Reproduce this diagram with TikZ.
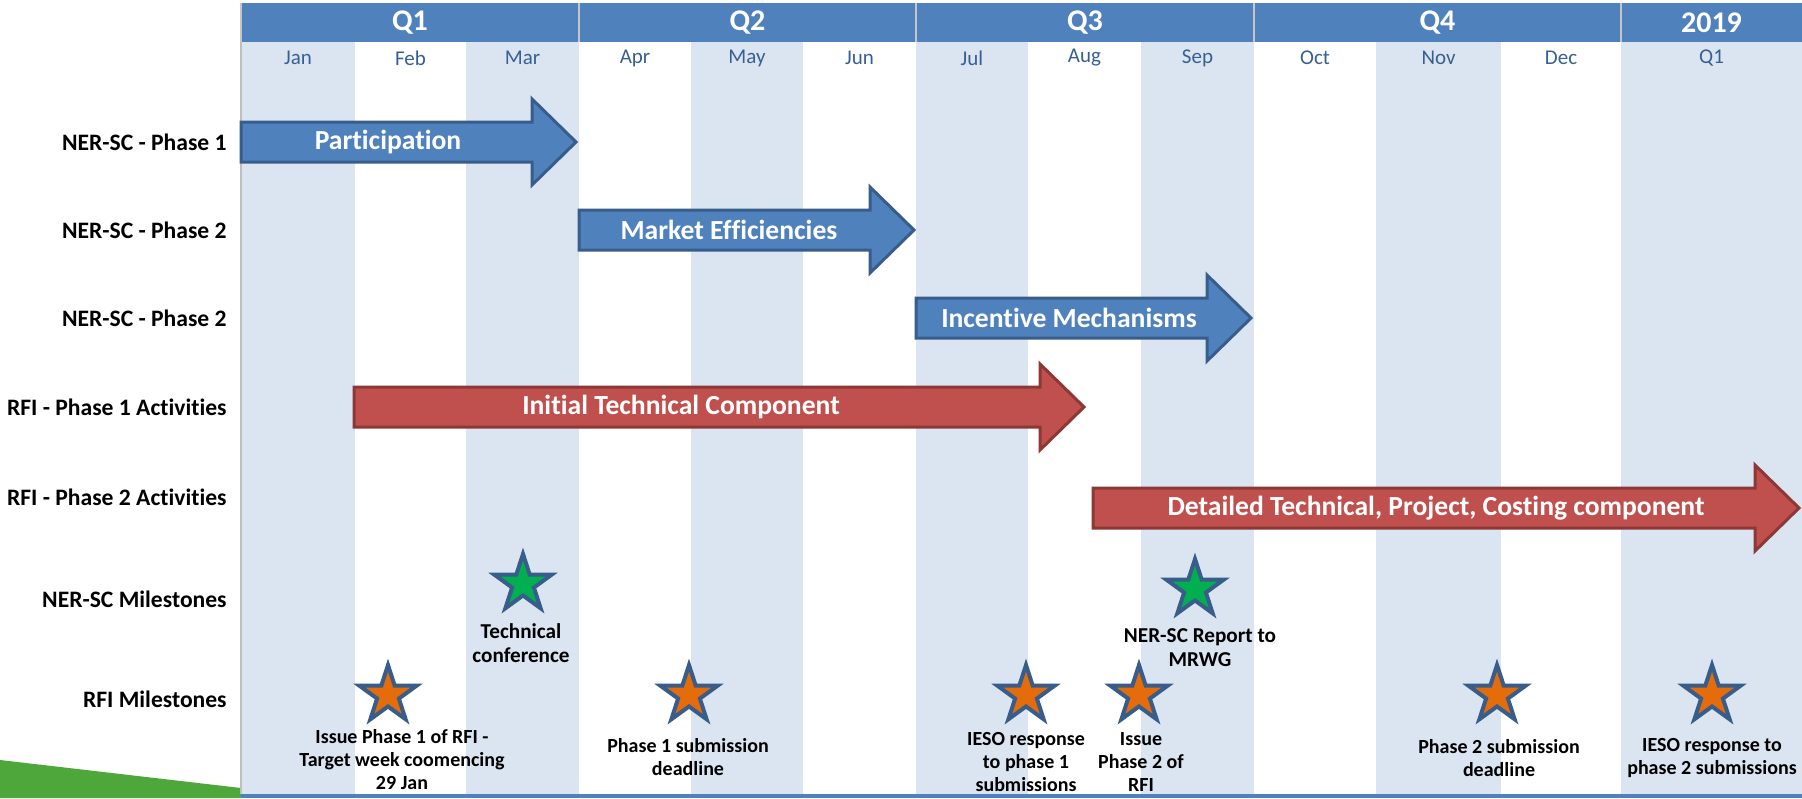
\documentclass[tikz,border=0pt]{standalone}
\usepackage{fontspec}
\setmainfont[Ligatures=NoCommon]{Carlito}
\usetikzlibrary{shapes.geometric}

\definecolor{hdrblue}{RGB}{79,129,189}
\definecolor{edgeblue}{RGB}{56,93,138}
\definecolor{colshade}{RGB}{219,229,241}
\definecolor{monthtxt}{RGB}{55,96,146}
\definecolor{barred}{RGB}{192,80,77}
\definecolor{edgered}{RGB}{140,56,54}
\definecolor{starorange}{RGB}{228,108,10}
\definecolor{stargreen}{RGB}{0,176,80}
\definecolor{slidegreen}{RGB}{78,167,58}

\tikzset{
    rowlabel/.style={anchor=east, inner sep=0pt, font=\fontsize{11.8}{14}\selectfont\bfseries},
    monthlabel/.style={text=monthtxt, font=\fontsize{10.5}{12}\selectfont},
    qlabel/.style={text=white, font=\fontsize{15}{18}\selectfont\bfseries},
    barlabel/.style={text=white, font=\fontsize{13.8}{16}\selectfont\bfseries},
    bluebar/.style={fill=hdrblue, draw=edgeblue, line width=1.5pt},
    redbar/.style={fill=barred, draw=edgered, line width=1.5pt},
    milestone/.style={star, star points=5, star point ratio=2.618, minimum size=30pt, inner sep=0pt, draw=edgeblue, line width=2pt},
    mslabel/.style={align=center, font=\fontsize{10}{11.5}\selectfont\bfseries}
}

\begin{document}
\begin{tikzpicture}[x=0.5pt, y=-0.5pt]
                    \fill[white] (0,0) rectangle (1802,798);
                    \useasboundingbox (0,0) rectangle (1802,798);
                    \fill[slidegreen] (0,760) -- (241,788) -- (241,798) -- (0,798) -- cycle;
                    % month columns
                    \foreach \xa/\xb/\m/\f in {241/355/Jan/colshade, 355/466/Feb/white, 466/579/Mar/colshade,
                        579/691/Apr/white, 691/803/May/colshade, 803/916/Jun/white, 916/1028/Jul/colshade,
                        1028/1141/Aug/white, 1141/1254/Sep/colshade, 1254/1376/Oct/white,
                        1376/1501/Nov/colshade, 1501/1621/Dec/white, 1621/1802/Q1/colshade}{
                        \fill[\f] (\xa,42) rectangle (\xb,794);
                        \node[monthlabel] (m\m) at ({(\xa+\xb)/2},58) {\m};
                    }
                    % quarters
                    \fill[hdrblue] (241,3) rectangle (1802,42);
                    \foreach \xa/\xb/\q in {241/579/Q1, 579/916/Q2, 916/1254/Q3, 1254/1621/Q4, 1621/1802/2019}{
                        \node[qlabel] (q\q) at ({(\xa+\xb)/2},23) {\q};
                        \draw[gray!45, line width=1pt] (\xa,3) -- (\xa,42);
                    }
                    \draw[gray!50, line width=1pt] (241,42) -- (241,794);
                    \fill[hdrblue] (241,794) rectangle (1802,798);
                    % rows
                    \foreach \y/\t [count=\i] in {142/NER-SC - Phase 1, 230/NER-SC - Phase 2, 318/NER-SC - Phase 2,
                        407/RFI - Phase 1 Activities, 497/RFI - Phase 2 Activities, 599/NER-SC Milestones, 699/RFI Milestones}
                        \node[rowlabel] (row\i) at (227,\y) {\t};
                    % bars
                    \foreach \xa/\xt/\y/\s/\c/\t [count=\i] in {241/576/142/bluebar/388/Participation,
                        579/914/230/bluebar/729/Market Efficiencies, 916/1251/318/bluebar/1069/Incentive Mechanisms,
                        354/1084/407/redbar/681/Initial Technical Component,
                        1093/1799/508/redbar/1436/{Detailed Technical, Project, Costing component}}{
                        \draw[\s] (\xa,\y-20) -- (\xt-44,\y-20) -- (\xt-44,\y-43) -- (\xt,\y)
                            -- (\xt-44,\y+43) -- (\xt-44,\y+20) -- (\xa,\y+20) -- cycle;
                        \node[barlabel] (bar\i) at (\c,\y) {\t};
                    }
                    % milestones
                    \node[milestone, fill=stargreen] (techconf) at (523,584) {};
                    \node[mslabel, font=\fontsize{10.6}{12}\selectfont\bfseries] (techconftxt) at (521,643) {Technical\\conference};
                    \node[milestone, fill=stargreen] (report) at (1195,589) {};
                    \node[mslabel, font=\fontsize{10.6}{12}\selectfont\bfseries] (reporttxt) at (1200,648) {NER-SC Report to\\MRWG};
                    \foreach \xs/\xl/\yl/\t [count=\i] in {388/402/760/{Issue Phase 1 of RFI -\\Target week coomencing\\29 Jan},
                        689/688/757/{Phase 1 submission\\deadline}, 1026/1026/762/{IESO response\\to phase 1\\submissions},
                        1139/1141/762/{Issue\\Phase 2 of\\RFI}, 1497/1499/758/{Phase 2 submission\\deadline},
                        1712/1712/758/{IESO response to\\phase 2 submissions}}{
                        \node[milestone, fill=starorange] (rfi\i) at (\xs,695) {};
                        \node[mslabel] (rfitxt\i) at (\xl,\yl) {\t};
                    }
                \end{tikzpicture}
\end{document}
